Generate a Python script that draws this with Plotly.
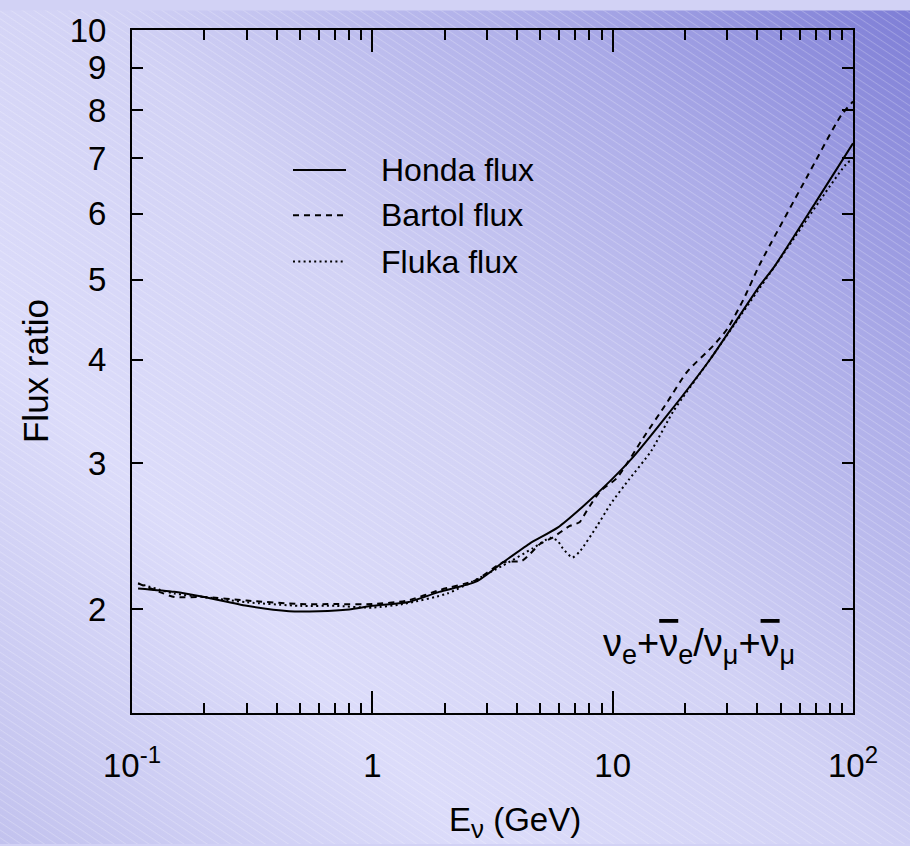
import base64
import math
import plotly.graph_objects as go

# ---------------- data ----------------
honda_e = [0.106, 0.15, 0.2, 0.3, 0.45, 0.6, 0.8, 1.0, 1.4, 1.9, 2.7, 3.5, 4.5,
           5.9, 7.5, 9.8, 12, 17, 25.5, 41, 47, 70, 100]
honda_r = [2.12, 2.10, 2.07, 2.02, 1.99, 1.99, 2.00, 2.02, 2.04, 2.10, 2.16, 2.28,
           2.40, 2.51, 2.66, 2.86, 3.04, 3.44, 4.01, 4.92, 5.18, 6.2, 7.3]

bartol_e = [0.106, 0.13, 0.15, 0.2, 0.3, 0.5, 0.7, 1.0, 1.4, 1.9, 2.7, 3.5, 4.2,
            5.0, 5.6, 6.6, 7.3, 7.8, 8.9, 10.4, 13.4, 16.9, 20.4, 26.2, 30, 35,
            41, 64, 89, 100]
bartol_r = [2.15, 2.10, 2.07, 2.07, 2.05, 2.03, 2.03, 2.03, 2.05, 2.11, 2.17, 2.28,
            2.29, 2.40, 2.44, 2.52, 2.55, 2.63, 2.78, 2.88, 3.22, 3.56, 3.87, 4.16,
            4.36, 4.73, 5.22, 6.63, 7.88, 8.2]

fluka_e = [0.106, 0.15, 0.2, 0.3, 0.5, 0.7, 1.0, 1.34, 2.05, 2.6, 3.5, 4.65, 5.5,
           5.9, 6.2, 6.8, 7.3, 8.6, 9.8, 11.7, 14.4, 17.9, 25.5, 48, 95, 100]
fluka_r = [2.15, 2.09, 2.07, 2.04, 2.02, 2.02, 2.01, 2.03, 2.09, 2.16, 2.26, 2.37,
           2.44, 2.42, 2.37, 2.31, 2.35, 2.52, 2.68, 2.87, 3.10, 3.47, 4.01, 5.22,
           6.92, 6.97]

series_names = ["Honda flux", "Bartol flux", "Fluka flux"]
series_dash = ["solid", "6px,5px", "2px,3.3px"]

x_tickvals = [0.1, 1, 10, 100]
x_ticktext = ["10<sup><span style='font-size:24px'>-1</span></sup>", "1", "10",
              "10<sup><span style='font-size:24px'>2</span></sup>"]
y_tickvals = [2, 3, 4, 5, 6, 7, 8, 9, 10]
y_ticktext = ["2", "3", "4", "5", "6", "7", "8", "9", "10"]

# ---------------- layout geometry ----------------
W, H = 910, 846
ML, MR, MT, MB = 132, 57, 20, 133
PW, PH = W - ML - MR, H - MT - MB
FONT = "Liberation Sans, Arial, Helvetica, sans-serif"


def px(xpix):
    return (xpix - ML) / PW


def py(ypix):
    return (H - MB - ypix) / PH


# background: diagonal gradient + thin light stripes (as an inline SVG image)
svg = f"""<svg xmlns='http://www.w3.org/2000/svg' width='{W}' height='{H}' viewBox='0 0 {W} {H}'>
<defs>
<linearGradient id='g' gradientUnits='userSpaceOnUse' x1='{W}' y1='0' x2='0' y2='{H}'>
<stop offset='0' stop-color='#7e7ed6'/>
<stop offset='0.22' stop-color='#acace8'/>
<stop offset='0.48' stop-color='#d2d2f5'/>
<stop offset='0.72' stop-color='#dcdcfa'/>
<stop offset='1' stop-color='#c2c2ee'/>
</linearGradient>
<pattern id='p' width='6.5' height='6.5' patternUnits='userSpaceOnUse' patternTransform='rotate(34)'>
<line x1='0' y1='0.5' x2='6.5' y2='0.5' stroke='#ffffff' stroke-opacity='0.22' stroke-width='1'/>
</pattern>
</defs>
<rect width='{W}' height='{H}' fill='url(#g)'/>
<rect width='{W}' height='{H}' fill='url(#p)'/>
</svg>"""
bg_uri = "data:image/svg+xml;base64," + base64.b64encode(svg.encode()).decode()

fig = go.Figure()
for name, xs, ys, dash in zip(series_names, [honda_e, bartol_e, fluka_e],
                              [honda_r, bartol_r, fluka_r], series_dash):
    fig.add_trace(go.Scatter(x=xs, y=ys, mode="lines", name=name,
                             line=dict(color="black", width=2, dash=dash,
                                       shape="spline", smoothing=0.6),
                             showlegend=False))

minor_x = [m * d for d in (0.1, 1, 10) for m in range(2, 10)]

axis_common = dict(type="log", showline=True, linecolor="black", linewidth=2,
                   mirror="ticks", ticks="inside", tickcolor="black", tickwidth=2,
                   showgrid=False, zeroline=False,
                   tickfont=dict(family=FONT, size=33, color="black"))

fig.update_xaxes(**axis_common, range=[-1, 2], tickmode="array",
                 tickvals=x_tickvals, ticktext=x_ticktext, ticklen=22,
                 ticklabelstandoff=22,
                 minor=dict(tickvals=minor_x, ticks="inside", ticklen=10,
                            tickwidth=2, tickcolor="black", showgrid=False))
fig.update_yaxes(**axis_common, range=[math.log10(1.5), 1], tickmode="array",
                 tickvals=y_tickvals, ticktext=y_ticktext, ticklen=11,
                 ticklabelstandoff=17)

# manual key
key_y = [162, 208, 255]
shapes = []
annotations = []
for name, dash, ky in zip(series_names, series_dash, key_y):
    shapes.append(dict(type="line", xref="paper", yref="paper",
                       x0=px(293), x1=px(346), y0=py(ky), y1=py(ky),
                       line=dict(color="black", width=2, dash=dash)))
    annotations.append(dict(xref="paper", yref="paper", x=px(379), y=py(ky),
                            xanchor="left", yanchor="middle", showarrow=False,
                            text=name, font=dict(family=FONT, size=32, color="black")))

sub_style = "<span style='font-size:27px'>{}</span>"
bar_nu = "<span style='text-decoration:overline'>ν</span>"
nu_label = ("ν<sub>" + sub_style.format("e") + "</sub>+" + bar_nu + "<sub>"
            + sub_style.format("e") + "</sub>/ν<sub>" + sub_style.format("μ")
            + "</sub>+" + bar_nu + "<sub>" + sub_style.format("μ") + "</sub>")
annotations.append(dict(xref="paper", yref="paper", x=px(699), y=py(645),
                        xanchor="center", yanchor="middle", showarrow=False,
                        text=nu_label,
                        font=dict(family=FONT, size=38, color="black")))
annotations.append(dict(xref="paper", yref="paper", x=px(515), y=py(824),
                        xanchor="center", yanchor="middle", showarrow=False,
                        text="E<sub><span style='font-size:26px'>ν</span></sub> (GeV)",
                        font=dict(family=FONT, size=33, color="black")))
annotations.append(dict(xref="paper", yref="paper", x=px(35), y=py(366),
                        xanchor="center", yanchor="middle", showarrow=False,
                        textangle=-90, text="Flux ratio",
                        font=dict(family=FONT, size=35, color="black")))

fig.update_layout(
    width=W, height=H, margin=dict(l=ML, r=MR, t=MT, b=MB),
    paper_bgcolor="#d2d2f5", plot_bgcolor="rgba(0,0,0,0)",
    showlegend=False, shapes=shapes, annotations=annotations,
    images=[dict(source=bg_uri, xref="paper", yref="paper",
                 x=-ML / PW, y=1 + MT / PH, sizex=W / PW, sizey=H / PH,
                 xanchor="left", yanchor="top", sizing="stretch", layer="below")],
)

fig.write_html("out.html")
